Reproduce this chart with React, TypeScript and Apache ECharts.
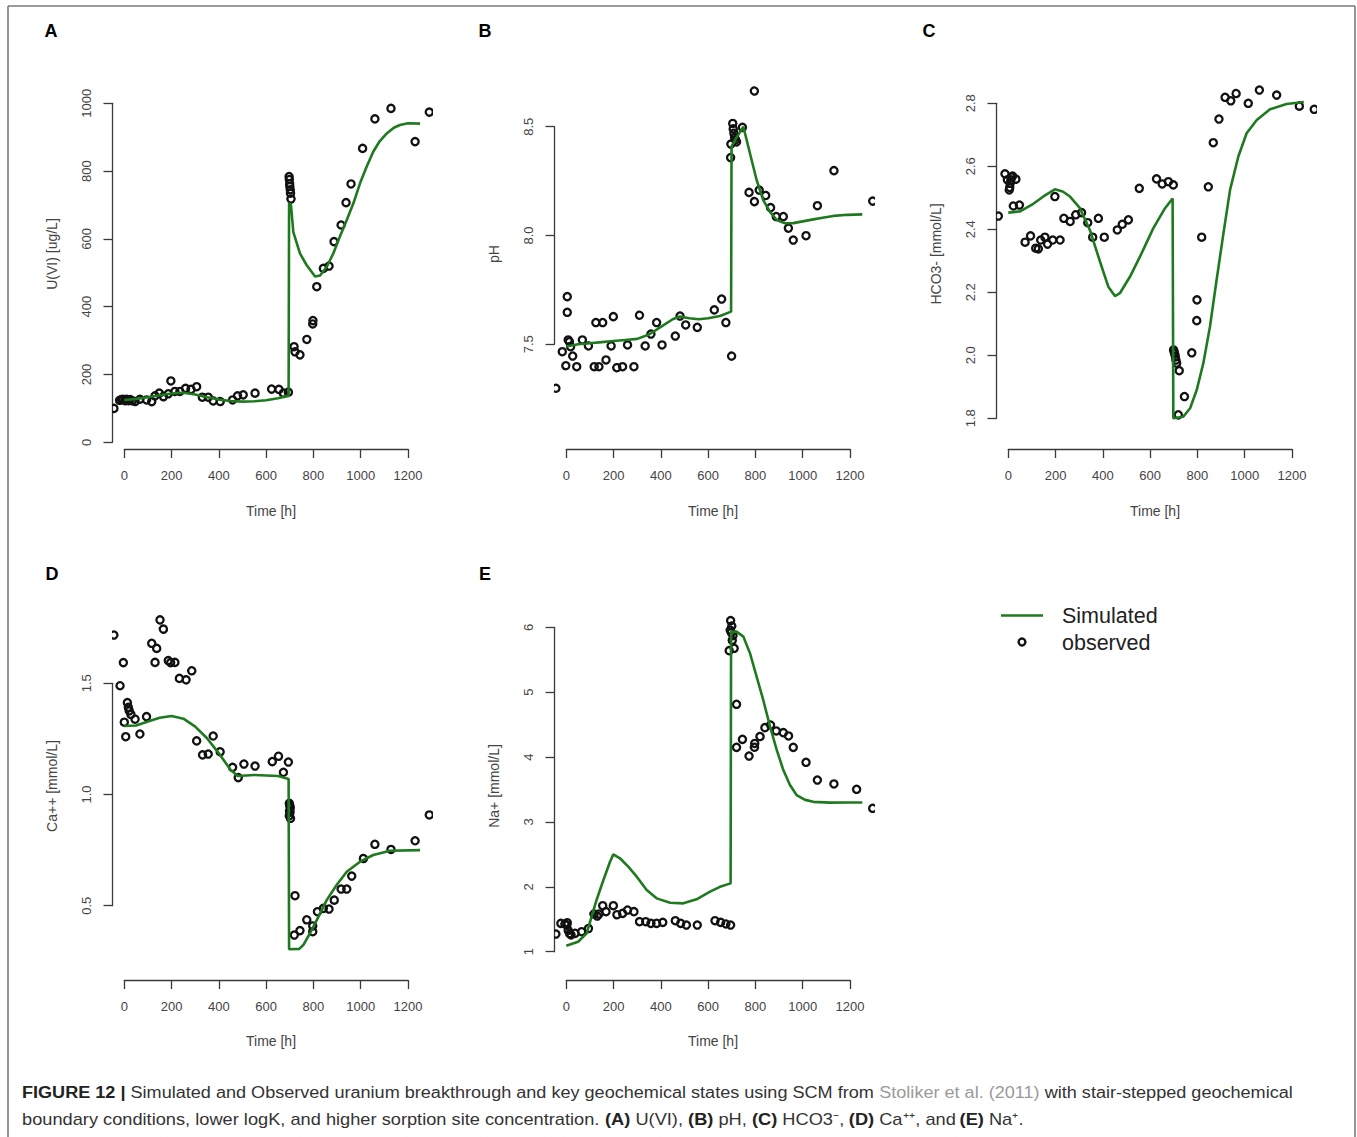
import React, { useEffect, useRef } from "react";
import * as echarts from "echarts";

type Pair = [number, number];

// Time axis (hours) shared by all panels
const timeTicks = [0, 200, 400, 600, 800, 1000, 1200];
const timeRange: Pair = [-50, 1300];

// (A) U(VI) [ug/L]
const uraniumObserved: Pair[] = [
  [-44, 100], [-20, 124], [-12, 126], [-5, 127], [3, 125], [10, 127], [18, 123], [25, 126], [33, 125],
  [45, 123], [66, 127], [94, 125], [116, 120], [130, 137], [148, 145], [165, 137], [186, 143], [197, 181],
  [214, 150], [235, 150], [259, 159], [282, 156], [306, 164], [330, 133], [355, 133], [376, 122], [405, 123],
  [458, 125], [479, 137], [503, 140], [553, 145], [623, 157], [654, 156], [673, 145], [694, 148],
  [697, 784], [698, 775], [699, 765], [700, 755], [702, 745], [703, 735], [705, 720],
  [718, 282], [722, 267], [743, 258], [771, 307], [797, 349], [798, 359], [814, 459], [842, 513],
  [866, 520], [887, 592], [917, 641], [938, 707], [959, 762], [1008, 867], [1060, 954], [1128, 985],
  [1230, 887], [1290, 974],
];
const uraniumSimulated: Pair[] = [
  [0, 125], [50, 128], [100, 133], [150, 139], [200, 144], [250, 146], [300, 141], [350, 133], [400, 126],
  [450, 122], [500, 120], [550, 121], [600, 124], [650, 130], [695, 137], [697, 705], [705, 700], [715, 620],
  [743, 557], [771, 523], [807, 489], [828, 492], [856, 517], [884, 557], [912, 607], [941, 656], [969, 705],
  [997, 764], [1025, 813], [1053, 857], [1080, 888], [1110, 911], [1140, 928], [1166, 936], [1200, 941],
  [1251, 940],
];

// (B) pH
const phObserved: Pair[] = [
  [-44, 7.298], [-17, 7.466], [-3, 7.408], [4, 7.719], [4, 7.647], [8, 7.52], [13, 7.512], [18, 7.489],
  [27, 7.446], [44, 7.397], [68, 7.52], [93, 7.497], [118, 7.397], [125, 7.6], [138, 7.397], [154, 7.6],
  [168, 7.428], [189, 7.497], [199, 7.627], [213, 7.397], [238, 7.397], [259, 7.497], [286, 7.397],
  [309, 7.638], [333, 7.497], [358, 7.547], [382, 7.6], [405, 7.497], [461, 7.538], [481, 7.63],
  [505, 7.589], [554, 7.578], [626, 7.658], [657, 7.708], [675, 7.6], [699, 7.448],
  [695, 8.358], [696, 8.42], [704, 8.515], [706, 8.49], [709, 8.47], [712, 8.45], [716, 8.44], [720, 8.43],
  [745, 8.497], [773, 8.198], [795, 8.16], [795, 8.668], [816, 8.209], [843, 8.186], [864, 8.128],
  [888, 8.087], [918, 8.087], [939, 8.038], [960, 7.979], [1014, 7.999], [1062, 8.137], [1132, 8.298],
  [1296, 8.158],
];
const phSimulated: Pair[] = [
  [0, 7.49], [50, 7.5], [100, 7.505], [150, 7.51], [200, 7.515], [250, 7.52], [300, 7.525], [350, 7.545],
  [400, 7.58], [450, 7.615], [480, 7.628], [520, 7.62], [560, 7.615], [600, 7.62], [650, 7.63], [697, 7.65],
  [699, 8.41], [720, 8.45], [749, 8.5], [777, 8.377], [805, 8.255], [833, 8.163], [861, 8.11], [890, 8.071],
  [925, 8.056], [960, 8.057], [1000, 8.065], [1045, 8.074], [1090, 8.083], [1130, 8.09], [1190, 8.095],
  [1252, 8.097],
];

// (C) HCO3- [mmol/L]
const bicarbonateObserved: Pair[] = [
  [-42, 2.442], [-14, 2.576], [-4, 2.557], [4, 2.525], [6, 2.533], [8, 2.546], [11, 2.557], [14, 2.566],
  [18, 2.569], [32, 2.559], [21, 2.477], [47, 2.477], [71, 2.359], [94, 2.379], [116, 2.34], [127, 2.338],
  [137, 2.366], [155, 2.375], [166, 2.353], [188, 2.366], [197, 2.504], [219, 2.366], [235, 2.435],
  [261, 2.428], [285, 2.449], [310, 2.453], [336, 2.421], [357, 2.375], [381, 2.435], [406, 2.375],
  [461, 2.398], [482, 2.416], [508, 2.43], [554, 2.53], [627, 2.56], [651, 2.544], [677, 2.551], [698, 2.541],
  [699, 2.017], [702, 2.01], [704, 2.004], [707, 1.995], [709, 1.985], [712, 1.975], [723, 1.951],
  [719, 1.811], [745, 1.869], [776, 2.008], [797, 2.11], [798, 2.176], [818, 2.375], [846, 2.535],
  [867, 2.675], [891, 2.75], [917, 2.819], [941, 2.808], [963, 2.834], [1015, 2.8], [1062, 2.842],
  [1135, 2.826], [1231, 2.791], [1294, 2.781],
];
const bicarbonateSimulated: Pair[] = [
  [0, 2.453], [50, 2.457], [100, 2.478], [150, 2.505], [197, 2.527], [230, 2.52], [261, 2.504], [303, 2.467],
  [345, 2.398], [388, 2.297], [423, 2.218], [451, 2.188], [472, 2.197], [515, 2.25], [557, 2.313],
  [613, 2.403], [663, 2.467], [695, 2.498], [698, 1.8], [740, 1.805], [769, 1.832], [797, 1.89],
  [825, 1.975], [853, 2.091], [881, 2.239], [910, 2.387], [938, 2.525], [973, 2.631], [1008, 2.705],
  [1051, 2.747], [1107, 2.781], [1177, 2.798], [1250, 2.804],
];

// (D) Ca++ [mmol/L]
const calciumObserved: Pair[] = [
  [-44, 1.717], [-18, 1.489], [-4, 1.593], [0, 1.325], [6, 1.26], [13, 1.413], [17, 1.392], [21, 1.376],
  [28, 1.36], [45, 1.343], [66, 1.272], [94, 1.35], [116, 1.68], [130, 1.594], [137, 1.657], [151, 1.785],
  [165, 1.747], [186, 1.602], [196, 1.593], [214, 1.594], [233, 1.522], [261, 1.519], [285, 1.56],
  [306, 1.241], [331, 1.178], [355, 1.182], [376, 1.263], [405, 1.196], [458, 1.122], [482, 1.076],
  [506, 1.137], [553, 1.128], [626, 1.148], [651, 1.178], [673, 1.1], [694, 1.146],
  [698, 0.96], [700, 0.95], [702, 0.94], [699, 0.93], [701, 0.92], [698, 0.905], [703, 0.893],
  [722, 0.545], [719, 0.368], [743, 0.388], [771, 0.442], [797, 0.409], [797, 0.383], [817, 0.473],
  [842, 0.488], [866, 0.485], [888, 0.525], [917, 0.575], [941, 0.575], [962, 0.633], [1011, 0.716],
  [1060, 0.776], [1128, 0.753], [1230, 0.792], [1290, 0.908],
];
const calciumSimulated: Pair[] = [
  [0, 1.308], [50, 1.31], [100, 1.328], [150, 1.345], [200, 1.353], [250, 1.341], [300, 1.305],
  [350, 1.253], [400, 1.185], [450, 1.11], [480, 1.083], [550, 1.088], [650, 1.083], [695, 1.07],
  [697, 0.304], [740, 0.306], [757, 0.323], [785, 0.375], [814, 0.435], [856, 0.525], [898, 0.593],
  [941, 0.653], [997, 0.698], [1053, 0.728], [1124, 0.747], [1251, 0.75],
];

// (E) Na+ [mmol/L]
const sodiumObserved: Pair[] = [
  [-44, 1.272], [-23, 1.437], [-6, 1.427], [4, 1.447], [2, 1.41], [8, 1.33], [14, 1.28], [20, 1.26],
  [37, 1.283], [65, 1.308], [93, 1.375], [117, 1.591], [131, 1.55], [138, 1.58], [154, 1.709], [168, 1.617],
  [199, 1.709], [213, 1.591], [238, 1.591], [259, 1.642], [286, 1.617], [309, 1.478], [336, 1.462],
  [358, 1.437], [382, 1.437], [408, 1.452], [461, 1.478], [484, 1.437], [508, 1.411], [554, 1.411],
  [629, 1.478], [653, 1.452], [675, 1.427], [695, 1.411],
  [695, 6.103], [700, 6.02], [693, 5.97], [698, 5.92], [705, 5.88], [702, 5.8], [710, 5.676], [689, 5.64],
  [720, 4.813], [720, 4.15], [745, 4.273], [773, 4.016], [795, 4.171], [797, 4.21], [819, 4.33],
  [840, 4.453], [864, 4.494], [888, 4.402], [918, 4.376], [940, 4.325], [960, 4.15], [1014, 3.919],
  [1062, 3.646], [1132, 3.585], [1228, 3.503], [1296, 3.21],
];
const sodiumSimulated: Pair[] = [
  [0, 1.092], [50, 1.154], [86, 1.283], [107, 1.54], [128, 1.797], [157, 2.105], [185, 2.387], [199, 2.5],
  [227, 2.44], [262, 2.31], [298, 2.156], [340, 1.95], [382, 1.822], [439, 1.755], [495, 1.745],
  [551, 1.807], [608, 1.925], [650, 2.0], [695, 2.053], [697, 5.93], [720, 5.933], [749, 5.856],
  [777, 5.6], [805, 5.24], [833, 4.88], [862, 4.47], [890, 4.11], [918, 3.8], [946, 3.57], [974, 3.415],
  [1010, 3.34], [1045, 3.31], [1115, 3.297], [1186, 3.3], [1252, 3.3],
];

// Vertical axis tick settings per panel
const yTicksA = { min: 0, max: 1000, step: 200, digits: 0 };
const yTicksB = { min: 7.5, max: 8.5, step: 0.5, digits: 1 };
const yTicksC = { min: 1.8, max: 2.8, step: 0.2, digits: 1 };
const yTicksD = { min: 0.5, max: 1.5, step: 0.5, digits: 1 };
const yTicksE = { min: 1, max: 6, step: 1, digits: 0 };

const panels = [
  { letter: "A", yTitle: "U(VI) [ug/L]", observed: uraniumObserved, simulated: uraniumSimulated, ticks: yTicksA },
  { letter: "B", yTitle: "pH", observed: phObserved, simulated: phSimulated, ticks: yTicksB },
  { letter: "C", yTitle: "HCO3- [mmol/L]", observed: bicarbonateObserved, simulated: bicarbonateSimulated, ticks: yTicksC },
  { letter: "D", yTitle: "Ca++ [mmol/L]", observed: calciumObserved, simulated: calciumSimulated, ticks: yTicksD },
  { letter: "E", yTitle: "Na+ [mmol/L]", observed: sodiumObserved, simulated: sodiumSimulated, ticks: yTicksE },
];

// Page layout of each panel (pixels): first/last time tick, lowest/highest value tick,
// bottom axis line, top of plotting region, and label anchors.
const layouts = [
  { x0: 124.3, x1: 408, yLo: 442.3, yHi: 103.3, axisY: 449, top: 50, letter: [51, 31], yTitle: [52, 254], xTitle: [271, 511] },
  { x0: 566.3, x1: 850, yLo: 344.3, yHi: 126.7, axisY: 449, top: 50, letter: [485, 31], yTitle: [494, 254], xTitle: [713, 511] },
  { x0: 1008.3, x1: 1292, yLo: 418.3, yHi: 103.3, axisY: 449, top: 50, letter: [929, 31], yTitle: [936, 254], xTitle: [1155, 511] },
  { x0: 124.3, x1: 408, yLo: 905.7, yHi: 683.3, axisY: 980, top: 590, letter: [52, 574], yTitle: [52, 786], xTitle: [271, 1041] },
  { x0: 566.3, x1: 850, yLo: 951.7, yHi: 627.3, axisY: 980, top: 590, letter: [485, 574], yTitle: [494, 786], xTitle: [713, 1041] },
];

const FONT = "'Liberation Sans', Arial, Helvetica, sans-serif";
const SIM_COLOR = "#1f7a1f";
const AXIS_COLOR = "#3a3a3a";
const LABEL_COLOR = "#444";
const POINT_COLOR = "#111";

function buildOption() {
  const grid: any[] = [];
  const xAxis: any[] = [];
  const yAxis: any[] = [];
  const series: any[] = [];
  const graphic: any[] = [];

  const tMin = timeTicks[0];
  const tMax = timeTicks[timeTicks.length - 1];

  panels.forEach((p, i) => {
    const L = layouts[i];
    const sx = (L.x1 - L.x0) / (tMax - tMin);
    const sy = (L.yLo - L.yHi) / (p.ticks.max - p.ticks.min);
    const plotLeft = L.x0 + (timeRange[0] - tMin) * sx;
    const plotRight = L.x0 + (timeRange[1] - tMin) * sx;
    const valueAt = (px: number) => p.ticks.min + (L.yLo - px) / sy;

    // plotting region (clips the data like the original device region)
    grid.push({ left: plotLeft, top: L.top, width: plotRight - plotLeft, height: L.axisY - L.top, outerBoundsMode: "none", containLabel: false });
    // axis frame spanning the first to last tick only
    grid.push({ left: L.x0, top: L.yHi, width: L.x1 - L.x0, height: L.yLo - L.yHi, outerBoundsMode: "none", containLabel: false });

    xAxis.push({ type: "value", gridIndex: 2 * i, min: timeRange[0], max: timeRange[1], show: false });
    yAxis.push({ type: "value", gridIndex: 2 * i, min: valueAt(L.axisY), max: valueAt(L.top), show: false });

    const lineStyle = { color: AXIS_COLOR, width: 1.3 };
    xAxis.push({
      type: "value",
      gridIndex: 2 * i + 1,
      position: "bottom",
      min: tMin,
      max: tMax,
      interval: timeTicks[1] - timeTicks[0],
      offset: L.axisY - L.yLo,
      axisLine: { show: true, onZero: false, lineStyle },
      axisTick: { show: true, inside: false, length: 9, lineStyle },
      axisLabel: {
        show: true,
        margin: 20,
        fontSize: 13,
        color: LABEL_COLOR,
        fontFamily: FONT,
        showMinLabel: true,
        showMaxLabel: true,
        formatter: (v: number) => String(Math.round(v)),
      },
      splitLine: { show: false },
    });
    yAxis.push({
      type: "value",
      gridIndex: 2 * i + 1,
      position: "left",
      min: p.ticks.min,
      max: p.ticks.max,
      interval: p.ticks.step,
      offset: L.x0 - plotLeft,
      axisLine: { show: true, onZero: false, lineStyle },
      axisTick: { show: true, inside: false, length: 9, lineStyle },
      axisLabel: {
        show: true,
        rotate: 90,
        margin: 19,
        fontSize: 13,
        color: LABEL_COLOR,
        fontFamily: FONT,
        showMinLabel: true,
        showMaxLabel: true,
        formatter: (v: number) => v.toFixed(p.ticks.digits),
      },
      splitLine: { show: false },
    });

    series.push({
      type: "custom",
      name: "observed",
      xAxisIndex: 2 * i,
      yAxisIndex: 2 * i,
      clip: true,
      silent: true,
      data: p.observed,
      renderItem: (_params: any, api: any) => {
        const pt = api.coord([api.value(0), api.value(1)]);
        return {
          type: "circle",
          shape: { cx: pt[0], cy: pt[1], r: 3.6 },
          style: { fill: "none", stroke: POINT_COLOR, lineWidth: 2.3 },
        };
      },
    });
    series.push({
      type: "line",
      name: "Simulated",
      xAxisIndex: 2 * i,
      yAxisIndex: 2 * i,
      clip: true,
      silent: true,
      showSymbol: false,
      symbol: "none",
      smooth: false,
      data: p.simulated,
      lineStyle: { color: SIM_COLOR, width: 2.6 },
      z: 3,
    });

    graphic.push({
      type: "text",
      x: L.letter[0],
      y: L.letter[1],
      style: { text: p.letter, font: `bold 18px ${FONT}`, fill: "#000", align: "center", verticalAlign: "middle" },
    });
    graphic.push({
      type: "text",
      x: L.yTitle[0],
      y: L.yTitle[1],
      rotation: Math.PI / 2,
      style: { text: p.yTitle, font: `14px ${FONT}`, fill: LABEL_COLOR, align: "center", verticalAlign: "middle" },
    });
    graphic.push({
      type: "text",
      x: L.xTitle[0],
      y: L.xTitle[1],
      style: { text: "Time [h]", font: `14px ${FONT}`, fill: LABEL_COLOR, align: "center", verticalAlign: "middle" },
    });
  });

  // legend
  graphic.push({ type: "line", shape: { x1: 1001, y1: 615.5, x2: 1043, y2: 615.5 }, style: { stroke: SIM_COLOR, lineWidth: 2.4 } });
  graphic.push({ type: "circle", shape: { cx: 1022, cy: 642, r: 3.4 }, style: { fill: "none", stroke: POINT_COLOR, lineWidth: 2.4 } });
  graphic.push({ type: "text", x: 1062, y: 616, style: { text: "Simulated", font: `21.5px ${FONT}`, fill: "#222", verticalAlign: "middle" } });
  graphic.push({ type: "text", x: 1062, y: 643, style: { text: "observed", font: `21.5px ${FONT}`, fill: "#222", verticalAlign: "middle" } });

  // figure frame
  const frame = { stroke: "#7a7a7a", lineWidth: 1.6 };
  graphic.push({ type: "line", shape: { x1: 8, y1: 6, x2: 1355, y2: 6 }, style: frame });
  graphic.push({ type: "line", shape: { x1: 8, y1: 6, x2: 8, y2: 1137 }, style: frame });
  graphic.push({ type: "line", shape: { x1: 1355, y1: 6, x2: 1355, y2: 1137 }, style: frame });

  // caption (set slightly wide, like the journal typeface)
  const captionRich = {
    b: { fontWeight: "bold", fill: "#222", fontSize: 16, fontFamily: FONT },
    n: { fill: "#333", fontSize: 16, fontFamily: FONT },
    g: { fill: "#9a9a9a", fontSize: 16, fontFamily: FONT },
  };
  graphic.push({
    type: "text",
    x: 22,
    y: 1093,
    scaleX: 1.13,
    style: {
      text:
        "{b|FIGURE 12 |}{n| Simulated and Observed uranium breakthrough and key geochemical states using SCM from }{g|Stoliker et al. (2011)}{n| with stair-stepped geochemical}",
      rich: captionRich,
      font: `16px ${FONT}`,
      verticalAlign: "middle",
    },
  });
  graphic.push({
    type: "text",
    x: 22,
    y: 1119,
    scaleX: 1.14,
    style: {
      text:
        "{n|boundary conditions, lower logK, and higher sorption site concentration. }{b|(A)}{n| U(VI), }{b|(B)}{n| pH, }{b|(C)}{n| HCO3\u207B, }{b|(D)}{n| Ca\u207A\u207A, and }{b|(E)}{n| Na\u207A.}",
      rich: captionRich,
      font: `16px ${FONT}`,
      verticalAlign: "middle",
    },
  });

  return { animation: false, backgroundColor: "#fff", grid, xAxis, yAxis, series, graphic };
}

export default function App() {
  const ref = useRef<HTMLDivElement>(null);
  useEffect(() => {
    if (!ref.current) return;
    const chart = echarts.init(ref.current, undefined, { renderer: "svg" });
    chart.setOption(buildOption());
    return () => chart.dispose();
  }, []);
  return <div ref={ref} style={{ position: "absolute", left: 0, top: 0, width: 1357, height: 1137 }} />;
}
